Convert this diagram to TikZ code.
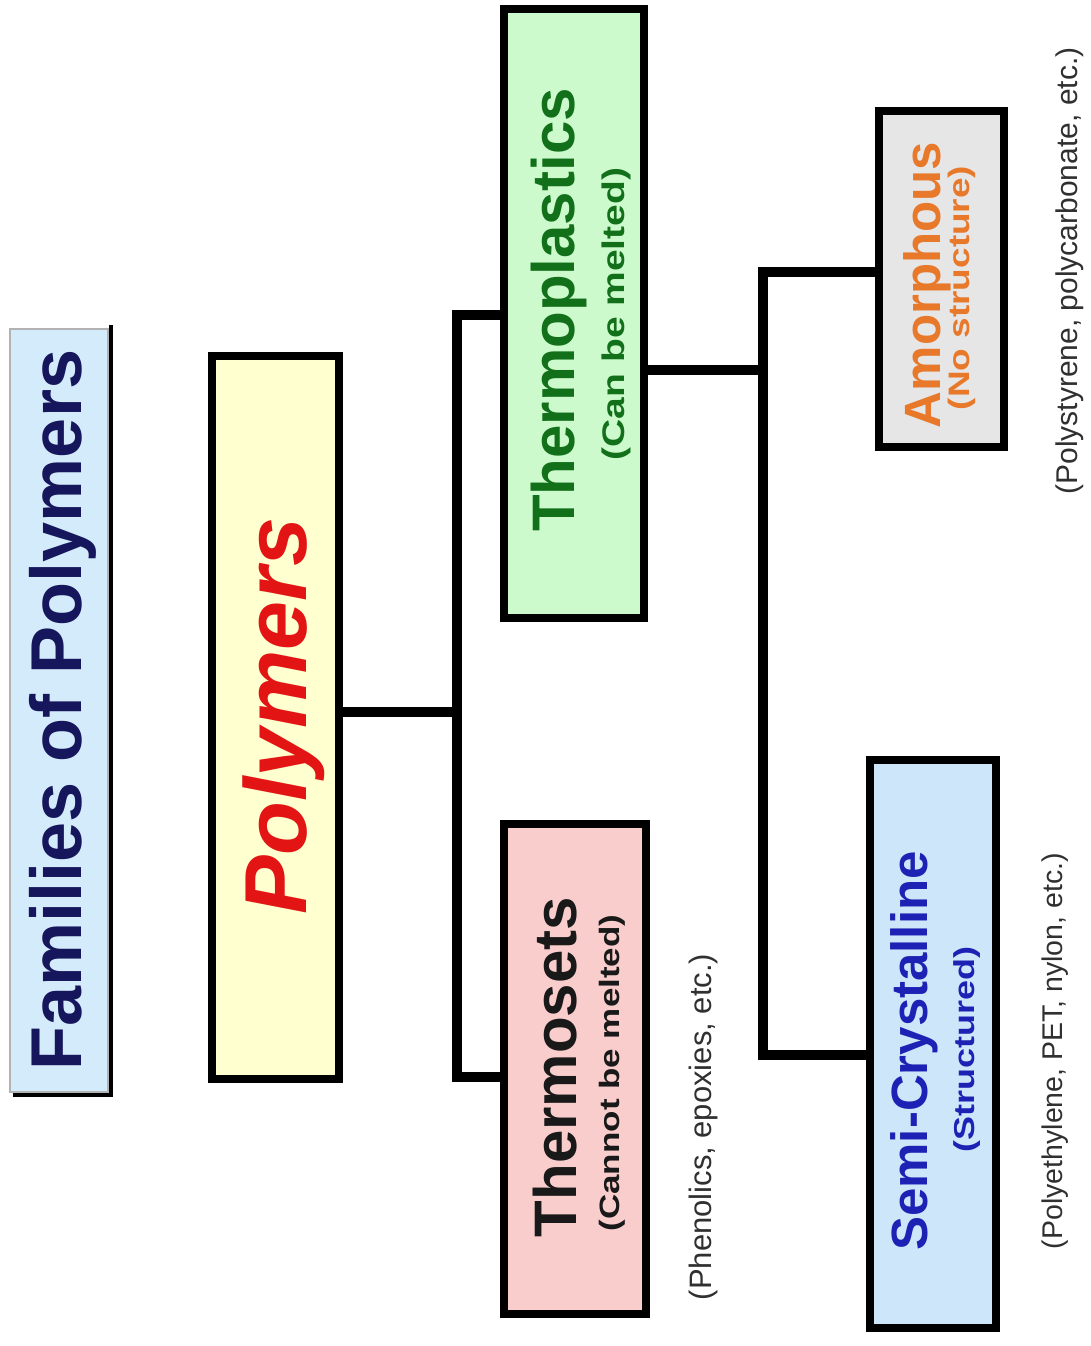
\documentclass[tikz,border=0pt]{standalone}
\usepackage{fontspec}
\setmainfont{Liberation Sans}
\definecolor{navy}{HTML}{16165C}
\definecolor{polyred}{HTML}{E31414}
\definecolor{tgreen}{HTML}{12701A}
\definecolor{orng}{HTML}{E8782A}
\definecolor{sblue}{HTML}{1E22B4}
\definecolor{fillblue}{HTML}{D3EBFA}
\definecolor{fillyel}{HTML}{FFFFCF}
\definecolor{fillgrn}{HTML}{CCFACC}
\definecolor{fillpink}{HTML}{FACDCD}
\definecolor{fillgray}{HTML}{E6E6E6}
\definecolor{fillsc}{HTML}{CDE6FA}
\definecolor{notegray}{HTML}{303030}
\newcommand{\fs}[1]{\fontsize{#1}{#1}\selectfont}
\newcommand{\squashtxt}[1]{\scalebox{1}[0.8]{#1}}
\begin{document}
\begin{tikzpicture}[x=1pt,y=-1pt,
  box/.style={draw=black, line width=8pt, inner sep=0pt},
  lab/.style={rotate=90, inner sep=0pt, anchor=center},
  conn/.style={draw=black, line width=10pt, line join=miter, line cap=butt}]
\useasboundingbox (0,0) rectangle (1090,1346);
\fill[white] (0,0) rectangle (1090,1346);

% title box with shadow
\node[draw=gray!60, line width=1.5pt, fill=fillblue, minimum width=98pt, minimum height=763pt, inner sep=0pt] (title) at (59,710.5) {};
\draw[black, line width=4pt] ([xshift=2pt,yshift=3pt]title.north east) -- ([xshift=2pt,yshift=-2pt]title.south east) -- ([xshift=4pt,yshift=-2pt]title.south west);
\node[lab, text=navy, font=\bfseries\fs{72}] (titletxt) at (63,710) {Families of Polymers};

% boxes
\node[box, fill=fillyel, minimum width=127pt, minimum height=723pt] (poly) at (275.5,717.5) {};
\node[box, fill=fillgrn, minimum width=140pt, minimum height=609pt] (tp) at (574,313.5) {};
\node[box, fill=fillpink, minimum width=142pt, minimum height=490pt] (ts) at (575,1069) {};
\node[box, fill=fillgray, minimum width=125pt, minimum height=336pt] (am) at (941.5,279) {};
\node[box, fill=fillsc, minimum width=126pt, minimum height=568pt] (sc) at (933,1044) {};

% labels
\node[lab, text=polyred, font=\bfseries\itshape\fs{88}] (polytxt) at (284,716) {Polymers};
\node[lab, text=tgreen, font=\bfseries\fs{60}] (tptxt) at (559,310) {Thermoplastics};
\node[lab, text=tgreen, font=\bfseries\fs{39}] (tpsub) at (616,314) {\squashtxt{(Can be melted)}};
\node[lab, text=black!90, font=\bfseries\fs{60}] (tstxt) at (555,1067) {Thermosets};
\node[lab, text=black!90, font=\bfseries\fs{35}] (tssub) at (612,1073) {\squashtxt{(Cannot be melted)}};
\node[lab, text=orng, font=\bfseries\fs{51}] (amtxt) at (927,285) {Amorphous};
\node[lab, text=orng, font=\bfseries\fs{37}] (amsub) at (962,288) {\squashtxt{(No structure)}};
\node[lab, text=sblue, font=\bfseries\fs{51}] (sctxt) at (914,1051) {Semi-Crystalline};
\node[lab, text=sblue, font=\bfseries\fs{36}] (scsub) at (967,1049) {\squashtxt{(Structured)}};

% example notes
\node[lab, text=notegray, font=\fs{31}] (tsnote) at (703,1127) {(Phenolics, epoxies, etc.)};
\node[lab, text=notegray, font=\fs{30}] (amnote) at (1070,271) {(Polystyrene, polycarbonate, etc.)};
\node[lab, text=notegray, font=\fs{28.5}] (scnote) at (1055,1051) {(Polyethylene, PET, nylon, etc.)};

% connectors
\coordinate (j1) at (457,712);
\coordinate (j1t) at (457,315);
\coordinate (j1b) at (457,1077);
\coordinate (j2) at (763,370);
\coordinate (j2t) at (763,272);
\coordinate (j2b) at (763,1055);
\draw[conn] (poly.east |- j1) -- (j1);
\draw[conn] (tp.west |- j1t) -- (j1t) -- (j1b) -- (ts.west |- j1b);
\draw[conn] (tp.east |- j2) -- (j2);
\draw[conn] (am.west |- j2t) -- (j2t) -- (j2b) -- (sc.west |- j2b);
\end{tikzpicture}
\end{document}
